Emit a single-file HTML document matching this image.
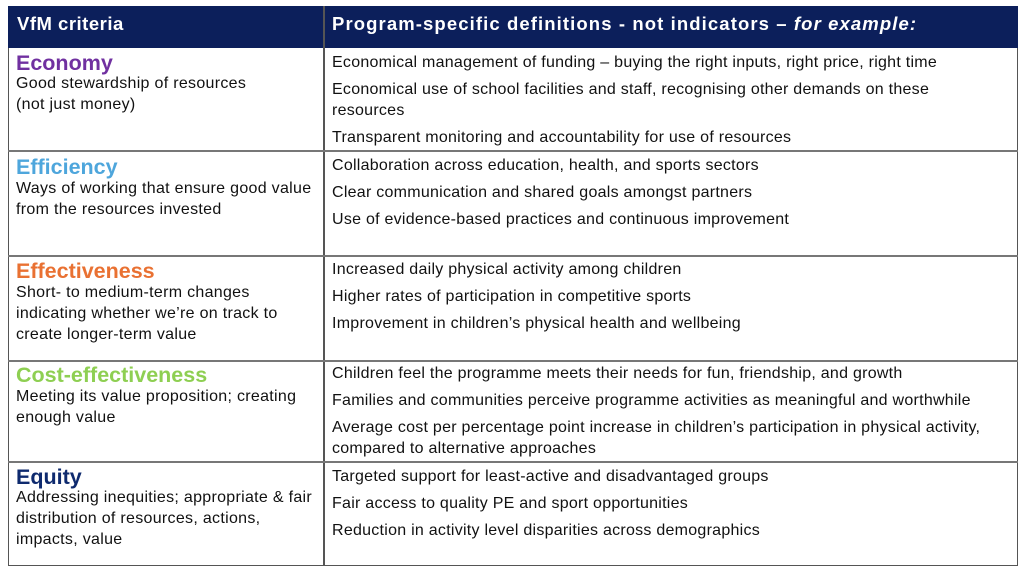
<!DOCTYPE html>
<html><head><meta charset="utf-8"><style>
body{margin:0;width:1024px;height:573px;background:#fff;font-family:"Liberation Sans",sans-serif;position:relative;overflow:hidden}
.t{position:absolute;left:8px;top:6px;width:1010px;height:560px;border:1.5px solid #555;box-sizing:border-box}
.h{position:absolute;left:8px;top:6px;width:1010px;height:42px;background:#0c1f5b}
.hl{position:absolute;color:#fff;font-weight:bold;font-size:18.5px;top:13px;letter-spacing:0.5px;white-space:nowrap}
.vl{position:absolute;left:323px;top:6px;width:1.5px;height:560px;background:#555}
.hr{position:absolute;left:8px;width:1010px;height:1.5px;background:#777}
.ti{position:absolute;left:16px;font-weight:bold;font-size:21.5px}
.d{position:absolute;left:16px;font-size:16px;letter-spacing:0.3px;line-height:21px;color:#111;white-space:nowrap}
.r{position:absolute;left:332px;font-size:16px;letter-spacing:0.26px;line-height:21px;color:#111;white-space:nowrap}
</style></head><body>
<div class="t"></div>
<div class="h"></div>
<div class="hl" style="left:17px">VfM criteria</div>
<div class="hl" style="left:332px;letter-spacing:1.1px">Program-specific definitions - not indicators – <i>for example:</i></div>
<div class="vl"></div>
<div class="hr" style="top:150px"></div>
<div class="hr" style="top:255px"></div>
<div class="hr" style="top:360px"></div>
<div class="hr" style="top:461px"></div>

<div class="ti" style="top:51px;color:#7030a0">Economy</div>
<div class="d" style="top:73px">Good stewardship of resources<br>(not just money)</div>
<div class="r" style="top:52px">Economical management of funding – buying the right inputs, right price, right time</div>
<div class="r" style="top:79px">Economical use of school facilities and staff, recognising other demands on these<br>resources</div>
<div class="r" style="top:127px">Transparent monitoring and accountability for use of resources</div>

<div class="ti" style="top:155px;color:#4ea6dc">Efficiency</div>
<div class="d" style="top:178px">Ways of working that ensure good value<br>from the resources invested</div>
<div class="r" style="top:155px">Collaboration across education, health, and sports sectors</div>
<div class="r" style="top:182px">Clear communication and shared goals amongst partners</div>
<div class="r" style="top:209px">Use of evidence-based practices and continuous improvement</div>

<div class="ti" style="top:259px;color:#e97132">Effectiveness</div>
<div class="d" style="top:282px">Short- to medium-term changes<br>indicating whether we’re on track to<br>create longer-term value</div>
<div class="r" style="top:259px">Increased daily physical activity among children</div>
<div class="r" style="top:286px">Higher rates of participation in competitive sports</div>
<div class="r" style="top:313px">Improvement in children’s physical health and wellbeing</div>

<div class="ti" style="top:363px;color:#8ecf52">Cost-effectiveness</div>
<div class="d" style="top:386px">Meeting its value proposition; creating<br>enough value</div>
<div class="r" style="top:363px">Children feel the programme meets their needs for fun, friendship, and growth</div>
<div class="r" style="top:390px">Families and communities perceive programme activities as meaningful and worthwhile</div>
<div class="r" style="top:417px">Average cost per percentage point increase in children’s participation in physical activity,<br>compared to alternative approaches</div>

<div class="ti" style="top:465px;color:#0e2a6e">Equity</div>
<div class="d" style="top:487px">Addressing inequities; appropriate &amp; fair<br>distribution of resources, actions,<br>impacts, value</div>
<div class="r" style="top:466px">Targeted support for least-active and disadvantaged groups</div>
<div class="r" style="top:493px">Fair access to quality PE and sport opportunities</div>
<div class="r" style="top:520px">Reduction in activity level disparities across demographics</div>
</body></html>
